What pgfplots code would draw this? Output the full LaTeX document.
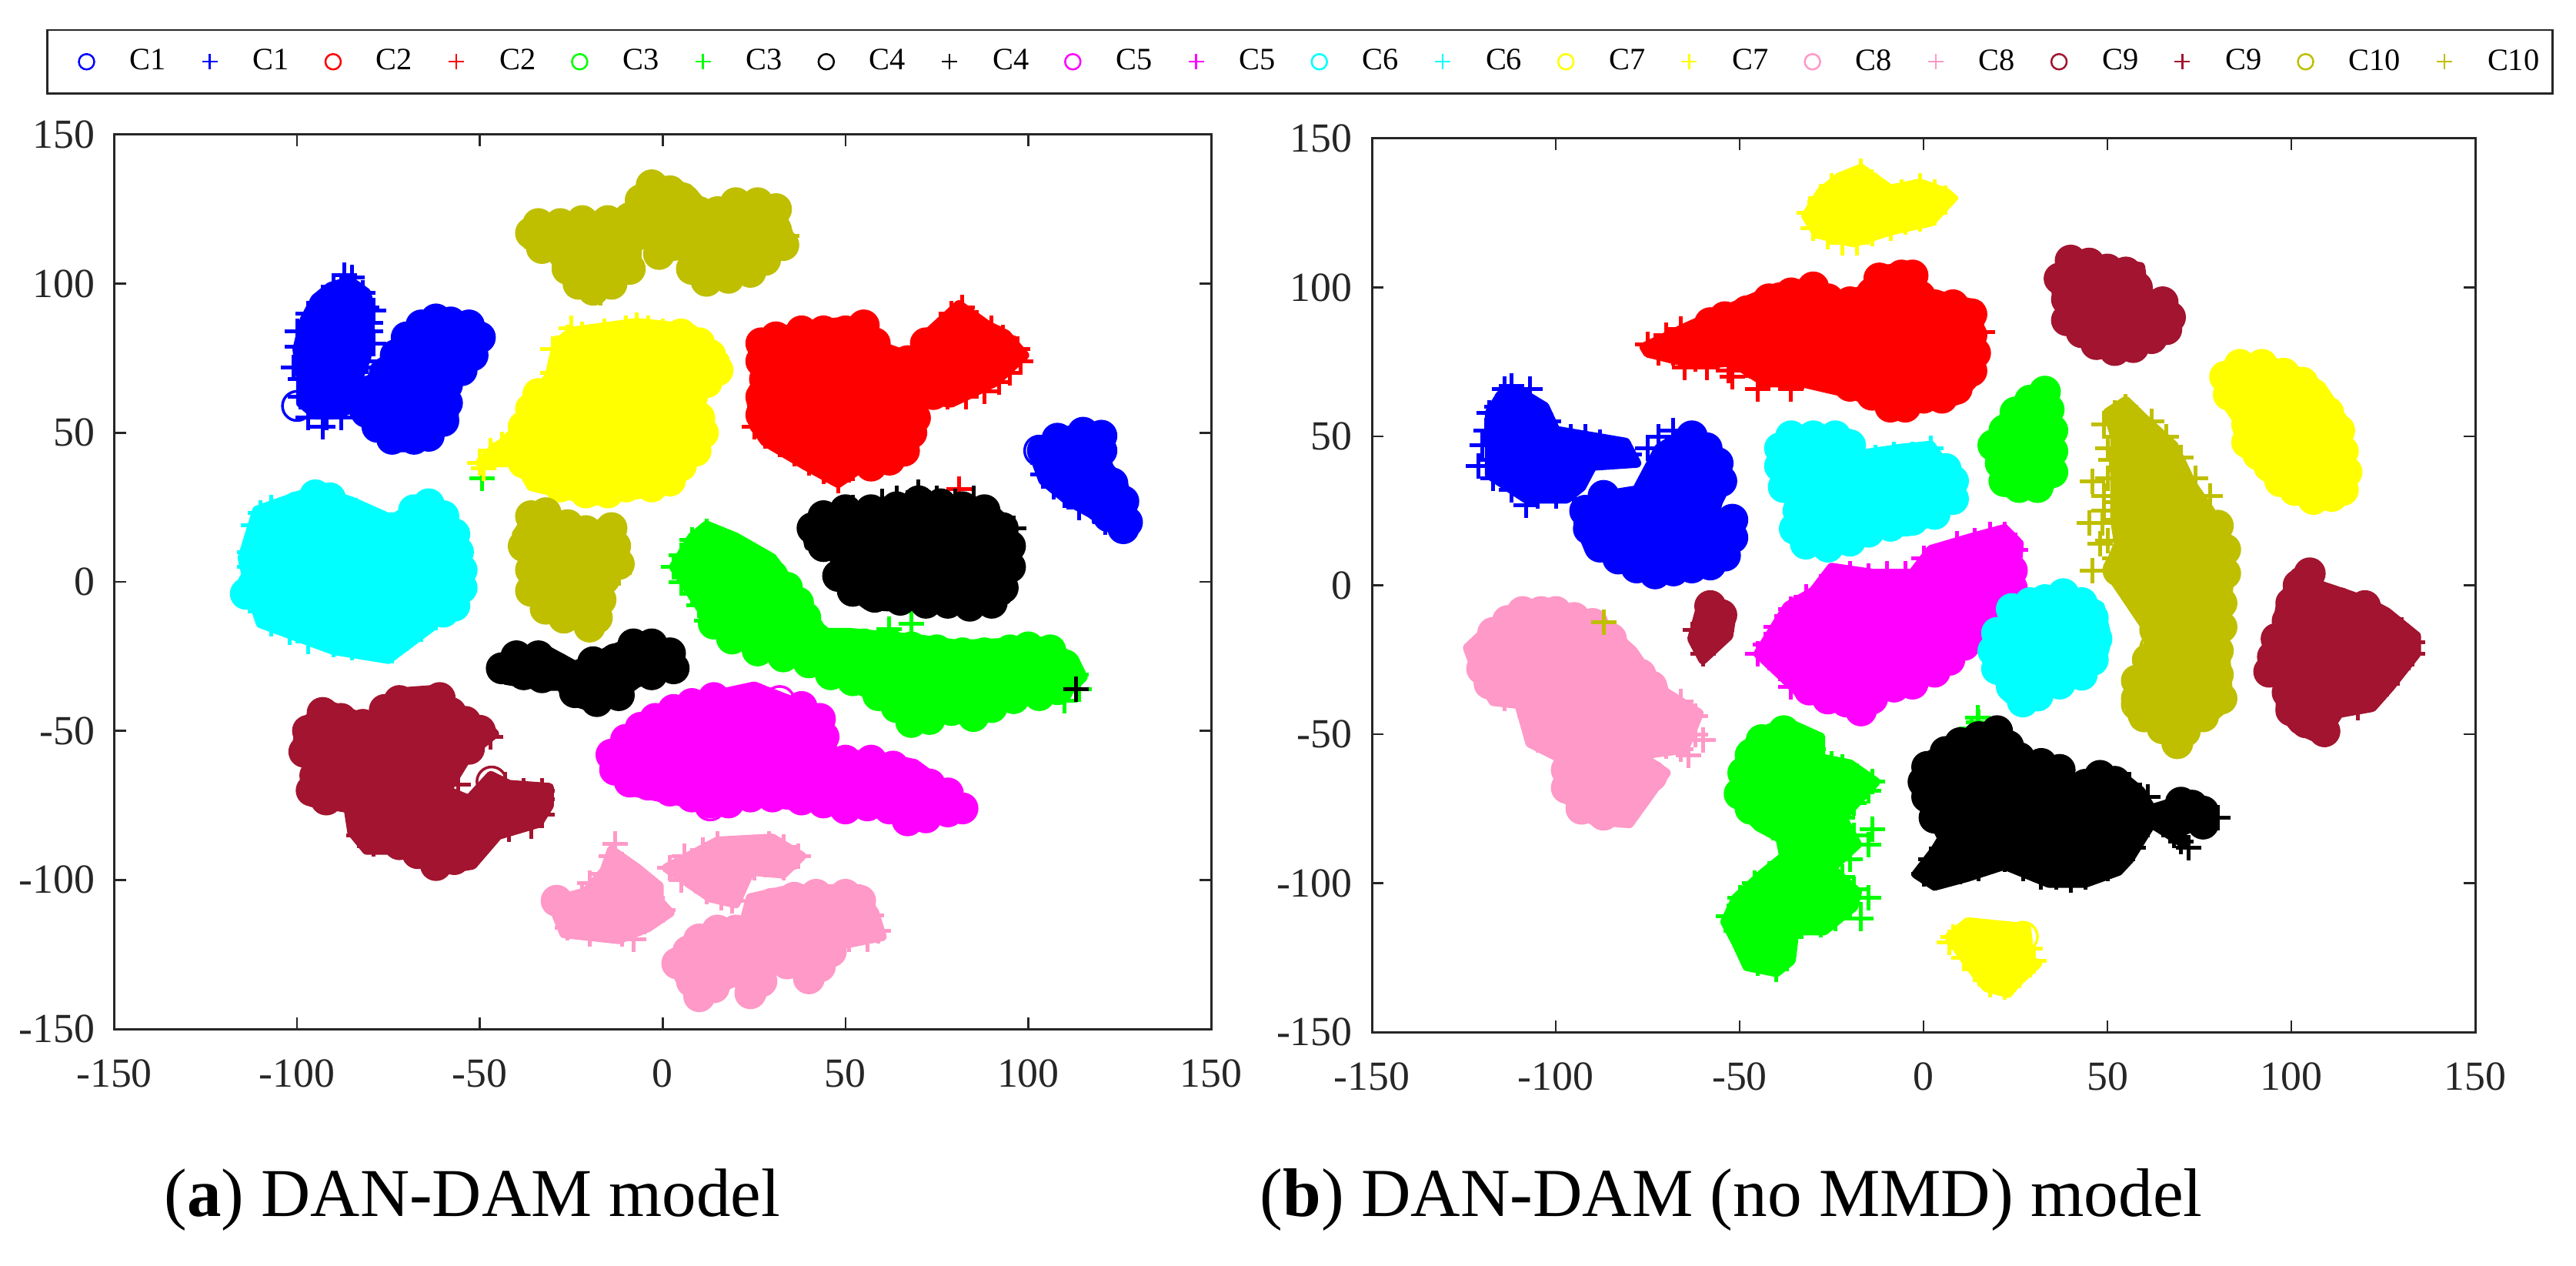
\documentclass[border=0pt]{standalone}
\usepackage{fontspec}
\setmainfont{Liberation Serif}
\usepackage{pgfplots}
\pgfplotsset{compat=1.18}
\definecolor{cA}{rgb}{0,0,1}
\definecolor{cB}{rgb}{1,0,0}
\definecolor{cC}{rgb}{0,1,0}
\definecolor{cD}{rgb}{0,0,0}
\definecolor{cE}{rgb}{1,0,1}
\definecolor{cF}{rgb}{0,1,1}
\definecolor{cG}{rgb}{1,1,0}
\definecolor{cH}{HTML}{FF99C7}
\definecolor{cI}{HTML}{A2142F}
\definecolor{cJ}{HTML}{BFBF00}
\definecolor{axc}{HTML}{262626}
\pgfplotsset{
  blob/.style={forget plot,no markers,fill=#1,draw=#1,line width=1.2mm,line join=round},
  co/.style={forget plot,only marks,mark=*,mark size=1.9mm,color=#1,line width=.35mm,mark options={solid,fill=#1}},
  ring/.style={forget plot,only marks,mark=o,mark size=1.9mm,color=#1,line width=.35mm,mark options={solid}},
  cp/.style={forget plot,only marks,mark=+,mark size=1.65mm,color=#1,line width=.5mm,mark options={solid}},
  lcode/.style={legend image code/.code={\path[draw=none] (-4.1mm,0cm) -- (0mm,0cm);\draw[##1] plot coordinates {(0cm,0cm)};}},
  lo/.style={only marks,mark=o,mark size=1mm,color=#1,line width=.25mm,lcode},
  lp/.style={only marks,mark=+,mark size=1mm,color=#1,line width=.25mm,lcode},
  panel/.style={
    scale only axis,anchor=south west,
    xmin=-150,xmax=150,ymin=-150,ymax=150,
    xtick={-150,-100,-50,0,50,100,150},ytick={-150,-100,-50,0,50,100,150},
    xticklabels={-150,-100,-50,0,50,100,150},yticklabels={-150,-100,-50,0,50,100,150},
    tick align=inside,major tick length=1.5mm,
    tick style={color=axc,line width=.25mm},
    axis line style={color=axc,line width=.3mm},
    tick label style={font=\fontsize{15.3pt}{16pt}\selectfont,text=axc},
    xticklabel style={yshift=-2.7mm},
    yticklabel style={xshift=-1.3mm},
  },
}
\begin{document}
\begin{tikzpicture}
\useasboundingbox (0,0) rectangle (33.48cm,16.44cm);
\begin{axis}[panel,at={(1.485cm,3.07cm)},width=14.255cm,height=11.62cm,
  legend columns=20,legend cell align=left,
  legend style={at={(-0.0619,1.118)},anchor=north west,draw=axc,line width=.25mm,
    font=\fontsize{11.5pt}{12pt}\selectfont,inner xsep=1mm,inner ysep=1.8mm,
    /tikz/every even column/.append style={column sep=.9mm},
    /tikz/every odd column/.append style={column sep=3.9mm}},
]
\addlegendimage{lo=cA}\addlegendentry{C1}
\addlegendimage{lp=cA}\addlegendentry{C1}
\addlegendimage{lo=cB}\addlegendentry{C2}
\addlegendimage{lp=cB}\addlegendentry{C2}
\addlegendimage{lo=cC}\addlegendentry{C3}
\addlegendimage{lp=cC}\addlegendentry{C3}
\addlegendimage{lo=cD}\addlegendentry{C4}
\addlegendimage{lp=cD}\addlegendentry{C4}
\addlegendimage{lo=cE}\addlegendentry{C5}
\addlegendimage{lp=cE}\addlegendentry{C5}
\addlegendimage{lo=cF}\addlegendentry{C6}
\addlegendimage{lp=cF}\addlegendentry{C6}
\addlegendimage{lo=cG}\addlegendentry{C7}
\addlegendimage{lp=cG}\addlegendentry{C7}
\addlegendimage{lo=cH}\addlegendentry{C8}
\addlegendimage{lp=cH}\addlegendentry{C8}
\addlegendimage{lo=cI}\addlegendentry{C9}
\addlegendimage{lp=cI}\addlegendentry{C9}
\addlegendimage{lo=cJ}\addlegendentry{C10}
\addlegendimage{lp=cJ}\addlegendentry{C10}
% C1
\addplot[blob=cA] coordinates {(-85.5,101)(-81,97)(-80,92)(-80,84)(-81,75)(-84,66)(-85,58)(-90,56)(-95,56)(-99,60)(-99,68)(-100,78)(-98,88)(-95,95)(-91,99)} -- cycle;
\addplot[blob=cA] coordinates {(-58,89)(-52,88)(-49,82)(-52,74)(-57,68)(-57,63)(-57,55)(-62,49)(-67,45)(-74,45)(-80,52)(-83,57)(-81,66)(-76,75)(-71,82)(-64,88)} -- cycle;
\addplot[blob=cA] coordinates {(117,52)(122,48)(121,40)(126,33)(129,20)(126,15)(117,23)(111,27)(104,34)(101,44)(107,50)} -- cycle;
\addplot[co=cA] coordinates {(-58,87)(-53,86)(-50,82)(-52,76)(-55,71)(-59,66)(-59,60)(-60,54)(-64,49)(-68,48)(-74,48)(-78,52)(-81,57)(-80,64)(-76,70)(-73,76)(-70,82)(-66,86)(-62,88)(115,50)(120,49)(120,44)(119,38)(123,33)(126,27)(127,20)(126,18)(122,22)(108,48)(104,44)};
\addplot[ring=cA] coordinates {(-100,59)(103,44)};
\addplot[cp=cA] coordinates {(-85,102)(-88,98)(-82,97)(-92,95)(-81,92)(-95,88)(-80,87)(-97,80)(-79,80)(-98,74)(-81,74)(-99,68)(-84,68)(-99,62)(-92,55)(-88,55)(-93,52)(-97,55)(-79,91)(-100,79)(-101,72)(-100,84)(-97,90)(-90,99)(-87,103)(-80,84)(-83,72)(-85,60)(104,36)(107,32)(110,29)(114,25)(118,24)(121,20)(104,40)};
% C2
\addplot[blob=cB] coordinates {(38,86)(55,88)(60,79)(67,76)(73,84)(81,93)(89,86)(94,83)(99,76)(91,67)(79,60)(71,61)(70,48)(64,40)(54,38)(48,33)(39,39)(28,47)(25,52)(24,63)(27,70)(25,79)(29,83)} -- cycle;
\addplot[co=cB] coordinates {(38,84)(44,84)(50,84)(55,86)(58,80)(27,80)(31,82)(27,74)(28,68)(27,62)(27,56)(30,50)(67,74)(72,80)(69,55)(68,50)(66,44)(62,41)(57,39)(74,63)};
\addplot[cp=cB] coordinates {(76,85)(79,90)(82,92)(86,87)(90,85)(93,82)(97,78)(98,74)(95,70)(92,67)(88,64)(83,62)(78,62)(52,38)(48,34)(44,37)(40,40)(36,43)(32,46)(28,49)(25,52)(81,31)};
% C3
\addplot[blob=cC] coordinates {(12,19)(20,15)(30,8)(39,-7)(44,-17)(51,-17)(69,-19)(81,-21)(101,-20)(106,-20)(113,-27)(115,-32)(110,-38)(94,-41)(85,-47)(79,-45)(70,-49)(60,-40)(48,-33)(38,-27)(27,-25)(16,-17)(12,-12)(3,5)(8,15)} -- cycle;
\addplot[co=cC] coordinates {(30,2)(34,-2)(37,-7)(39,-12)(42,-19)(48,-21)(55,-21)(62,-21)(68,-22)(75,-23)(82,-24)(88,-24)(95,-23)(100,-22)(106,-23)(110,-28)(108,-36)(103,-38)(96,-39)(90,-42)(85,-45)(79,-43)(73,-46)(68,-47)(64,-42)(59,-38)(52,-33)(46,-31)(40,-27)(33,-25)(26,-23)(19,-19)(14,-14)};
\addplot[cp=cC] coordinates {(12,17)(8,14)(16,14)(20,12)(24,8)(28,6)(5,9)(3,5)(5,0)(8,-4)(10,-8)(12,-13)(113,-31)(114,-36)(-49.3,34.8)(110,-40)(62,-16)(68,-14)};
% C4
\addplot[blob=cD] coordinates {(70,27)(90,25)(96,18)(96,5)(94,-6)(85,-10)(72,-9)(56,-8)(47,0)(49,10)(40,12)(39,18)(45,23)(58,26)} -- cycle;
\addplot[blob=cD] coordinates {(-46,-28)(-33,-22)(-24,-28)(-5,-18)(5,-24)(0,-31)(-7,-34)(-17,-43)(-25,-40)(-28,-35)(-33,-35)(-43,-33)} -- cycle;
\addplot[co=cD] coordinates {(41,18)(44,22)(50,24)(57,24)(64,25)(70,27)(76,26)(82,25)(88,24)(93,18)(95,12)(95,5)(93,-2)(90,-7)(84,-8)(78,-7)(72,-7)(65,-6)(58,-5)(52,-3)(48,2)(50,8)(44,12)(-44,-29)(-40,-25)(-34,-25)(-29,-29)(-38,-31)(-33,-32)(-19,-27)(-13,-26)(-8,-21)(-3,-21)(2,-24)(3,-29)(-3,-31)(-8,-30)(-12,-33)(-18,-33)(-24,-37)(-18,-40)(-12,-38)};
\addplot[cp=cD] coordinates {(70,30)(60,27)(64,28)(75,28)(80,27)(85,28)(48,24)(52,25)(113,-36)(96,18)};
% C5
\addplot[blob=cE] coordinates {(-16,-58)(-7,-50)(6,-40)(25,-35)(44,-44)(46,-58)(57,-58)(69,-61)(79,-70)(84,-76)(78,-79)(67,-82)(60,-77)(51,-78)(42,-76)(28,-74)(12,-76)(6,-74)(-10,-70)} -- cycle;
\addplot[co=cE] coordinates {(-14,-58)(-10,-53)(-6,-49)(-2,-46)(3,-43)(8,-41)(14,-39)(38,-42)(43,-46)(44,-52)(44,-58)(50,-60)(57,-60)(63,-62)(68,-65)(73,-68)(78,-71)(82,-76)(78,-77)(72,-79)(67,-80)(62,-76)(56,-75)(50,-76)(44,-74)(38,-73)(30,-72)(24,-72)(18,-74)(13,-74)(8,-72)(2,-70)(-4,-68)(-9,-67)(-13,-63)};
\addplot[ring=cE] coordinates {(25,-39)(20,-41)(13,-75)(32,-40)};
% C6
\addplot[blob=cF] coordinates {(-95,31)(-111,24)(-115,8)(-113,-3)(-110,-14)(-90,-23)(-75,-26)(-63,-15)(-53,0)(-54,11)(-60,23)(-65,28)(-74,21)(-85,27)} -- cycle;
\addplot[co=cF] coordinates {(-95,29)(-91,28)(-100,25)(-74,18)(-68,24)(-64,26)(-60,22)(-57,16)(-56,10)(-55,4)(-55,-2)(-57,-8)(-60,-10)(-114,-4)(-112,-1)};
\addplot[cp=cF] coordinates {(-108,20)(-105,23)(-110,15)(-113,10)(-113,5)(-112,-5)(-110,-10)(-107,-14)(-102,-17)(-97,-20)(-90,-21)(-85,-22)(-80,-22)(-74,-23)(-70,-19)(-66,-16)(-62,-12)(-84,24)(-78,20)(-88,26)(-110,23)(-112,19)(-107,25)};
% C7
\addplot[blob=cG] coordinates {(-25,84)(-7,87)(8,85)(17,75)(13,67)(7,62)(13,52)(7,38)(-3,30)(-19,27)(-36,32)(-42,45)(-37,60)(-31,69)(-29,80)} -- cycle;
\addplot[blob=cG] coordinates {(-50,40)(-46,45)(-42,48)(-40,40)} -- cycle;
\addplot[co=cG] coordinates {(5,83)(10,80)(13,76)(15,71)(12,67)(8,62)(10,55)(11,50)(9,44)(5,39)(2,34)(-3,32)(-10,32)(-15,30)(-21,30)(-28,32)(-33,35)(-38,40)(-40,46)(-38,52)(-36,58)(-34,63)};
\addplot[cp=cG] coordinates {(-26,82)(-22,83)(-16,84)(-10,85)(-4,85)(0,84)(-30,78)(-28,74)(-30,70)(-50,40)(-47,44)(-49,38)(-44,46)(-25,85)(-7,86)(-18,80)(-8,81)};
% C8
\addplot[blob=cH] coordinates {(-14,-90)(-7,-96)(-1,-102)(-1,-107)(2,-111)(-4,-116)(-12,-120)(-27,-118)(-29,-112)(-30,-107)(-21,-104)(-16,-97)} -- cycle;
\addplot[blob=cH] coordinates {(30,-86)(38,-92)(33,-98)(24,-97)(20,-108)(13,-106)(1,-96)(15,-87)} -- cycle;
\addplot[blob=cH] coordinates {(35,-103)(54,-103)(58,-111)(60,-119)(48,-122)(45,-131)(41,-135)(31,-128)(27,-139)(24,-140)(20,-134)(15,-137)(10,-140)(5,-134)(2,-128)(7,-122)(14,-115)(22,-115)(24,-106)} -- cycle;
\addplot[co=cH] coordinates {(30,-108)(36,-106)(42,-105)(50,-105)(54,-107)(4,-128)(7,-124)(10,-120)(15,-117)(20,-117)(26,-112)(8,-134)(10,-139)(14,-136)(24,-138)(27,-134)(34,-128)(40,-133)(43,-129)(46,-124)(-29,-107)};
\addplot[cp=cH] coordinates {(57,-112)(59,-117)(56,-120)(51,-120)(-14,-92)(-11,-95)(-16,-98)(-9,-99)(-5,-102)(-3,-106)(0,-110)(-5,-114)(-11,-118)(-18,-116)(-26,-116)(-27,-111)(-22,-106)(2,-96)(6,-92)(11,-90)(15,-88)(19,-90)(23,-90)(29,-88)(33,-89)(37,-92)(33,-96)(28,-95)(16,-106)(12,-104)(19,-107)(-20,-118)(-8,-120)(5,-100)(25,-96)(-20,-101)(-13,-88)};
% C9
\addplot[blob=cI] coordinates {(-92,-41)(-81,-46)(-72,-37)(-61,-36)(-57,-44)(-49,-47)(-46,-51)(-53,-58)(-59,-70)(-53,-73)(-47,-65)(-42,-68)(-31,-69)(-31,-75)(-34,-81)(-45,-85)(-52,-95)(-62,-97)(-71,-90)(-81,-90)(-85,-84)(-86,-76)(-96,-74)(-98,-69)(-96,-62)(-100,-54)(-99,-48)} -- cycle;
\addplot[co=cI] coordinates {(-93,-44)(-88,-46)(-97,-50)(-98,-57)(-95,-65)(-96,-70)(-92,-73)(-82,-48)(-76,-43)(-72,-40)(-67,-42)(-61,-39)(-58,-44)(-54,-47)(-50,-50)(-53,-56)(-62,-95)(-57,-93)(-67,-91)(-72,-88)};
\addplot[ring=cI] coordinates {(-46.8,-67)};
\addplot[cp=cI] coordinates {(-82,-81)(-83,-85)(-79,-88)(-52,-90)(-48,-85)(-42,-83)(-36,-82)(-33,-78)(-33,-73)(-33,-70)(-38,-70)(-43,-68)(-47,-52)(-56,-68)};
% C10
\addplot[blob=cJ] coordinates {(-3,136)(7,132)(14,123)(18,129)(31,128)(33,122)(35,115)(29,107)(21,101)(11,99)(6,103)(6,109)(-1,117)(-7,112)(-7,105)(-13,98)(-19,95)(-29,104)(-29,112)(-37,113)(-38,117)(-34,122)(-17,123)(-10,124)(-6,133)} -- cycle;
\addplot[blob=cJ] coordinates {(-35,25)(-21,19)(-12,20)(-11,4)(-16,-2)(-16,-15)(-19,-17)(-32,-11)(-38,-3)(-38,5)(-40,16)} -- cycle;
\addplot[co=cJ] coordinates {(-36,117)(-34,120)(-28,120)(-22,121)(-15,121)(-9,122)(-6,128)(-3,133)(2,131)(6,128)(10,124)(15,124)(20,127)(26,127)(31,125)(31,118)(33,113)(28,108)(24,104)(18,102)(12,101)(8,105)(9,109)(3,113)(-1,110)(-9,105)(-10,112)(-14,100)(-19,98)(-23,100)(-26,105)(-27,110)(-33,112)(-36,22)(-32,23)(-26,19)(-21,17)(-14,18)(-13,12)(-12,6)(-16,1)(-17,-6)(-18,-12)(-20,-15)(-27,-12)(-32,-9)(-36,-3)(-36,4)(-38,12)};
\addplot[cp=cJ] coordinates {(34,116)(-17,97)(-12,3)(-13,10)};
\end{axis}
\begin{axis}[panel,at={(17.83cm,3.03cm)},width=14.34cm,height=11.61cm]
% C1
\addplot[blob=cA] coordinates {(-111,66)(-103,60)(-100,52)(-81,48)(-78,41)(-90,40)(-93,33)(-97,29)(-108,29)(-118,37)(-118,47)(-118,58)(-115,64)} -- cycle;
\addplot[blob=cA] coordinates {(-63,53)(-56,46)(-53,35)(-57,25)(-50,20)(-53,7)(-62,5)(-72,2)(-82,6)(-91,12)(-94,21)(-88,30)(-78,32)(-72,46)} -- cycle;
\addplot[co=cA] coordinates {(-63,50)(-59,46)(-56,41)(-55,35)(-59,28)(-52,22)(-52,16)(-54,10)(-58,7)(-63,6)(-68,5)(-73,4)(-78,6)(-83,9)(-88,13)(-91,19)(-92,25)(-87,30)};
\addplot[cp=cA] coordinates {(-112,67)(-108,62)(-116,60)(-104,57)(-119,52)(-100,50)(-92,50)(-85,46)(-80,44)(-118,42)(-117,36)(-112,32)(-105,30)(-100,30)(-72,50)(-75,46)(-96,50)(-88,48)(-120,47)(-114,66)(-107,66)(-102,55)(-118,58)(-121,40)(-108,27)(-95,29)(-68,52)};
% C2
\addplot[blob=cB] coordinates {(-76,80)(-64,87)(-53,93)(-40,100)(-30,102)(-24,96)(-17,99)(-12,106)(-2,107)(0,98)(6,97)(15,94)(15,70)(9,62)(1,60)(-9,58)(-19,64)(-33,68)(-43,68)(-52,75)(-62,74)(-75,78)} -- cycle;
\addplot[co=cB] coordinates {(-58,88)(-54,90)(-48,92)(-42,96)(-36,98)(-30,100)(-26,96)(-20,95)(-14,98)(-12,103)(-6,104)(-3,104)(-1,97)(3,94)(8,94)(13,91)(13,84)(14,78)(13,72)(9,66)(5,63)(0,63)(-5,60)(-9,60)(-14,64)(-20,67)(-26,70)};
\addplot[cp=cB] coordinates {(-75,81)(-70,84)(-68,78)(-62,82)(-62,76)(-56,79)(-50,76)(-44,70)(-38,70)(-72,78)(-65,73)(-59,73)(-53,72)(-66,86)(-33,70)(-48,74)(16,85)(-45,66)(-36,66)(-52,70)};
% C3
\addplot[blob=cC] coordinates {(33,67)(36,62)(37,40)(37,36)(31,30)(23,31)(20,37)(17,47)(22,57)(27,64)} -- cycle;
\addplot[blob=cC] coordinates {(-37,-46)(-28,-51)(-28,-58)(-20,-60)(-13,-66)(-19,-74)(-22,-78)(-18,-87)(-25,-95)(-18,-103)(-19,-108)(-27,-116)(-35,-116)(-36,-126)(-40,-130)(-48,-128)(-51,-120)(-54,-113)(-51,-105)(-44,-97)(-38,-91)(-39,-85)(-45,-81)(-52,-72)(-51,-63)(-49,-54)(-42,-48)} -- cycle;
\addplot[co=cC] coordinates {(33,65)(34,59)(35,52)(35,45)(35,38)(31,33)(26,33)(22,35)(21,41)(19,47)(22,52)(25,58)(29,62)(-38,-49)(-33,-53)(-44,-52)(-47,-57)(-49,-63)(-50,-70)(-47,-75)(-43,-78)};
\addplot[cp=cC] coordinates {(-30,-55)(-25,-60)(-22,-61)(-18,-64)(-14,-66)(-15,-69)(-19,-73)(-22,-78)(-19,-84)(-22,-88)(-26,-93)(-22,-98)(-19,-102)(-20,-107)(-24,-112)(-28,-114)(-32,-113)(-36,-118)(-38,-124)(-40,-129)(-45,-127)(-48,-122)(-51,-116)(-53,-111)(-50,-105)(-46,-100)(-42,-97)(-37,-92)(-38,-85)(-36,-80)(14.7,-44.4)(15,-46)(13,-48)(-14,-82)(-15,-87)(-20,-92)(-15,-105)(-17,-112)};
% C4
\addplot[blob=cD] coordinates {(20,-47)(26,-57)(39,-60)(38,-69)(45,-67)(49,-62)(55,-65)(59,-69)(62,-75)(70,-72)(77,-74)(78,-78)(70,-83)(71,-87)(62,-80)(56,-92)(53,-96)(44,-100)(34,-100)(22,-94)(12,-98)(3,-101)(-2,-97)(3,-89)(5,-85)(1,-75)(-1,-66)(-1,-59)(10,-51)} -- cycle;
\addplot[co=cD] coordinates {(1,-61)(0,-66)(1,-71)(3,-78)(6,-56)(10,-53)(15,-51)(20,-49)(23,-54)(26,-58)(32,-60)(37,-62)(37,-66)(44,-67)(48,-64)(52,-66)(73,-74)(76,-76)(70,-73)(76,-80)};
\addplot[cp=cD] coordinates {(0,-97)(5,-97)(2,-92)(6,-89)(10,-96)(15,-95)(22,-92)(27,-95)(32,-98)(36,-98)(40,-99)(44,-98)(50,-95)(54,-92)(57,-88)(58,-84)(60,-76)(61,-71)(56,-67)(68,-84)(70,-86)(77,-80)(80,-78)(72,-88)};
% C5
\addplot[blob=cE] coordinates {(22,19)(26,14)(25,0)(16,-11)(6,-27)(2,-32)(-8,-35)(-16,-44)(-24,-41)(-34,-36)(-39,-30)(-45,-23)(-37,-7)(-30,-2)(-25,6)(-14,4)(-3,4)(2,12)(13,16)} -- cycle;
\addplot[co=cE] coordinates {(24,5)(24,-1)(22,-5)(17,-9)(14,-15)(11,-20)(7,-25)(3,-29)(-3,-33)(-8,-34)(-14,-38)(-17,-42)(-21,-39)(-26,-38)(-31,-35)};
\addplot[cp=cE] coordinates {(22,17)(25,12)(18,17)(14,15)(9,14)(5,10)(0,9)(-5,4)(-10,4)(-15,3)(-20,4)(-25,3)(-28,-2)(-32,-4)(-36,-8)(-40,-14)(-43,-20)(-45,-23)(-39,-28)(-36,-34)};
% C6
\addplot[blob=cF] coordinates {(-36,52)(-20,51)(-17,44)(-6,46)(2,47)(6,40)(10,29)(3,22)(-4,18)(-10,18)(-16,15)(-26,11)(-37,16)(-35,24)(-41,39)(-38,49)} -- cycle;
\addplot[blob=cF] coordinates {(38,0)(48,-7)(50,-18)(48,-28)(37,-35)(27,-41)(23,-38)(18,-27)(16,-21)(22,-7)(29,-5)} -- cycle;
\addplot[co=cF] coordinates {(-36,50)(-30,50)(-24,50)(-20,47)(-39,46)(-39,40)(-38,33)(-34,25)(-35,19)(-32,14)(-26,13)(-20,15)(-15,18)(-9,20)(-3,22)(3,24)(8,29)(8,35)(6,39)(38,-3)(43,-6)(46,-11)(47,-18)(46,-25)(43,-30)(37,-33)(31,-37)(27,-39)(24,-34)(20,-28)(19,-22)(20,-16)(24,-8)(29,-6)(33,-5)};
\addplot[cp=cF] coordinates {(2,46)(-3,44)(-8,44)(4,42)(-13,43)};
% C7
\addplot[blob=cG] coordinates {(-17,140)(-9,133)(-1,135)(6,132)(8,130)(2,122)(-9,119)(-19,115)(-29,118)(-32,124)(-28,132)(-23,137)} -- cycle;
\addplot[blob=cG] coordinates {(86,77)(99,74)(108,67)(114,56)(115,47)(117,39)(113,27)(108,27)(97,32)(92,40)(86,46)(85,56)(81,63)(80,72)} -- cycle;
\addplot[blob=cG] coordinates {(12,-113)(28,-115)(29,-126)(31,-127)(25,-134)(23,-137)(17,-135)(12,-127)(7,-118)} -- cycle;
\addplot[co=cG] coordinates {(86,74)(92,74)(98,71)(103,68)(107,62)(110,58)(113,52)(114,45)(115,38)(114,32)(111,30)(106,29)(101,32)(97,35)(94,40)(91,44)(88,48)(88,54)(87,60)(83,64)(82,70)};
\addplot[ring=cG] coordinates {(27,-118)};
\addplot[cp=cG] coordinates {(-17,139)(-21,135)(-13,134)(-25,134)(-28,130)(-31,125)(-30,120)(-26,117)(-22,115)(-18,115)(-14,118)(-9,120)(-5,122)(-1,123)(3,125)(6,130)(3,132)(-1,134)(-6,132)(-10,131)(12,-116)(8,-118)(17,-117)(23,-117)(29,-122)(30,-126)(26,-131)(22,-135)(18,-134)(14,-129)(11,-125)(7,-120)};
% C8
\addplot[blob=cH] coordinates {(-118,-14)(-124,-21)(-121,-31)(-117,-39)(-110,-40)(-107,-53)(-99,-58)(-99,-70)(-90,-79)(-80,-80)(-73,-68)(-70,-63)(-77,-57)(-65,-55)(-61,-43)(-70,-36)(-74,-31)(-79,-22)(-87,-13)(-98,-7)(-109,-8)} -- cycle;
\addplot[co=cH] coordinates {(-109,-9)(-104,-9)(-100,-9)(-95,-11)(-90,-13)(-85,-18)(-82,-24)(-77,-30)(-74,-34)(-120,-22)(-120,-28)(-118,-33)(-117,-16)(-113,-12)(-97,-62)(-97,-68)(-93,-75)(-87,-77)(-82,-76)(-78,-70)(-74,-64)};
\addplot[cp=cH] coordinates {(-114,-38)(-110,-40)(-106,-41)(-105,-47)(-103,-52)(-70,-38)(-66,-39)(-62,-44)(-62,-50)(-66,-55)(-70,-54)(-75,-56)(-100,-56)(-105,-52)(-60,-52)(-64,-57)};
% C9
\addplot[blob=cI] coordinates {(40,112)(48,108)(59,107)(60,98)(66,97)(69,87)(63,82)(51,77)(45,80)(40,85)(37,93)(35,104)} -- cycle;
\addplot[blob=cI] coordinates {(-58,-5)(-52,-9)(-53,-17)(-60,-25)(-63,-18)(-61,-9)} -- cycle;
\addplot[blob=cI] coordinates {(105,7)(108,0)(120,-5)(126,-9)(134,-17)(134,-23)(127,-34)(122,-41)(113,-43)(108,-52)(101,-48)(97,-42)(97,-34)(92,-28)(95,-20)(97,-7)(101,4)} -- cycle;
\addplot[co=cI] coordinates {(40,109)(45,108)(50,106)(55,105)(58,100)(60,95)(65,95)(67,90)(66,86)(62,83)(57,80)(52,79)(47,81)(43,85)(39,89)(39,96)(37,103)(-58,-7)(-55,-10)(105,4)(102,0)(100,-6)(106,-3)(113,-6)(120,-7)(99,-12)(96,-18)(95,-24)(94,-29)(99,-36)(100,-42)(104,-46)(109,-49)};
\addplot[cp=cI] coordinates {(-60,-13)(-55,-15)(-58,-20)(-60,-23)(-62,-15)(125,-12)(130,-15)(133,-19)(133,-23)(129,-28)(126,-33)(122,-38)(118,-41)(112,-43)(109,-50)};
% C10
\addplot[blob=cJ] coordinates {(55,62)(60,56)(68,47)(73,34)(78,25)(84,12)(83,0)(82,-20)(83,-40)(77,-46)(72,-50)(69,-56)(65,-50)(57,-45)(55,-38)(58,-28)(62,-17)(50,5)(53,14)(52,22)(52,28)(52,36)(52,50)(50,58)} -- cycle;
\addplot[co=cJ] coordinates {(80,20)(82,12)(82,4)(81,-6)(81,-14)(80,-22)(80,-30)(81,-38)(76,-44)(71,-49)(69,-53)(65,-48)(60,-44)(58,-38)(58,-32)(61,-25)(55,5)(60,-2)(63,-10)(63,-15)};
\addplot[ring=cJ] coordinates {(63,-21)(61,-33)(58,-40)(53,5)};
\addplot[cp=cJ] coordinates {(55,60)(52,58)(59,54)(62,50)(65,45)(68,40)(71,34)(73,29)(77,24)(52,50)(51,42)(50,36)(53,28)(53,22)(48.7,21)(50,15)(52,9)(46,35)(46,5)(45,21)(-87,-12.4)(49,54)(50,46)(49,30)(49,25)(48,14)(62,55)(66,50)(70,43)(74,36)(78,30)};
\end{axis}
\node[anchor=base west,inner sep=0pt,font=\fontsize{25.3pt}{26pt}\selectfont] at (2.13cm,.64cm) {(\textbf{a}) DAN-DAM model};
\node[anchor=base west,inner sep=0pt,font=\fontsize{25.4pt}{26pt}\selectfont] at (16.37cm,.64cm) {(\textbf{b}) DAN-DAM (no MMD) model};
\end{tikzpicture}
\end{document}
